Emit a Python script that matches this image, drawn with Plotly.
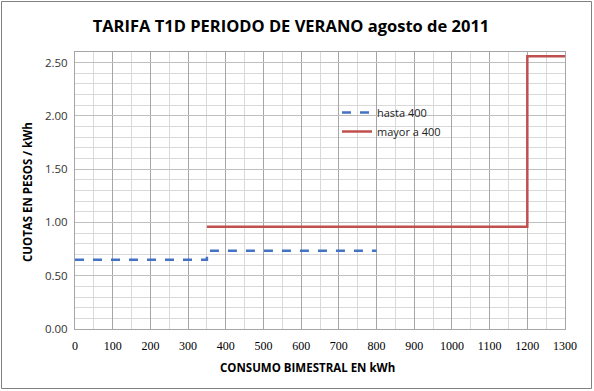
import plotly.graph_objects as go

# Data
hasta_x = [0, 350, 800]
hasta_y = [0.65, 0.735, 0.735]
mayor_x = [350, 1200, 1300]
mayor_y = [0.96, 2.56, 2.56]
x_ticks = list(range(0, 1301, 100))
y_ticks = [0.0, 0.5, 1.0, 1.5, 2.0, 2.5]

W, H = 594, 391
L, R, T, B = 75, 29, 52, 62

fig = go.Figure()
fig.add_trace(go.Scatter(x=hasta_x, y=hasta_y, mode="lines", name="hasta 400",
                         line=dict(color="#4472C4", width=2.5, dash="dash", shape="hv")))
fig.add_trace(go.Scatter(x=mayor_x, y=mayor_y, mode="lines", name="mayor a 400",
                         line=dict(color="#C0504D", width=2.5, shape="hv")))

pw = W - L - R
ph = H - T - B
FONT = "Open Sans, Liberation Sans"
fig.update_layout(
    width=W, height=H,
    margin=dict(l=L, r=R, t=T, b=B),
    paper_bgcolor="white", plot_bgcolor="white",
    title=dict(text="<b>TARIFA T1D PERIODO DE VERANO agosto de 2011</b>",
               x=291 / W, xanchor="center", y=1 - 26 / H, yanchor="middle",
               font=dict(family=FONT, size=16.5, color="black")),
    showlegend=True,
    legend=dict(x=(337 - L) / pw, y=1 - (98 - T) / ph, xanchor="left", yanchor="top",
                bgcolor="rgba(0,0,0,0)", font=dict(family=FONT, size=11, color="#222"),
                tracegroupgap=0),
    xaxis=dict(range=[0, 1300], tickvals=x_ticks, ticktext=[str(v) for v in x_ticks],
               showgrid=True, gridcolor="#A6A6A6", gridwidth=1,
               minor=dict(dtick=50, showgrid=True, gridcolor="#D9D9D9", gridwidth=1),
               showline=True, linecolor="#A6A6A6", mirror=True, zeroline=False,
               ticks="", ticklabelstandoff=6,
               tickfont=dict(family="Liberation Serif, serif", size=12, color="black")),
    yaxis=dict(range=[0, 2.6], tickvals=y_ticks, ticktext=[f"{v:.2f}" for v in y_ticks],
               showgrid=True, gridcolor="#BFBFBF", gridwidth=1,
               minor=dict(dtick=0.1, showgrid=True, gridcolor="#D9D9D9", gridwidth=1),
               showline=True, linecolor="#A6A6A6", mirror=True, zeroline=False,
               ticks="", ticklabelstandoff=4,
               tickfont=dict(family=FONT, size=11.5, color="#333")),
    annotations=[
        dict(text="<b>CONSUMO BIMESTRAL EN kWh</b>", xref="paper", yref="paper",
             x=(307 - L) / pw, y=-(367 - (T + ph)) / ph, xanchor="center", yanchor="middle",
             showarrow=False, font=dict(family=FONT, size=11.5, color="black")),
        dict(text="<b>CUOTAS EN PESOS / kWh</b>", xref="paper", yref="paper",
             x=-(L - 27) / pw, y=1 - (192 - T) / ph, xanchor="center", yanchor="middle",
             textangle=-90, showarrow=False, font=dict(family=FONT, size=11.5, color="black")),
    ],
    shapes=[dict(type="rect", xref="paper", yref="paper",
                 x0=-(L - 1.5) / pw, x1=1 + (R - 2.5) / pw,
                 y0=-(B - 2.5) / ph, y1=1 + (T - 1.5) / ph,
                 line=dict(color="#808080", width=1), fillcolor="rgba(0,0,0,0)", layer="below")],
)

fig.write_html("out.html", config={"displayModeBar": False},
               post_script="document.body.style.margin='0';document.body.style.overflow='hidden';")
